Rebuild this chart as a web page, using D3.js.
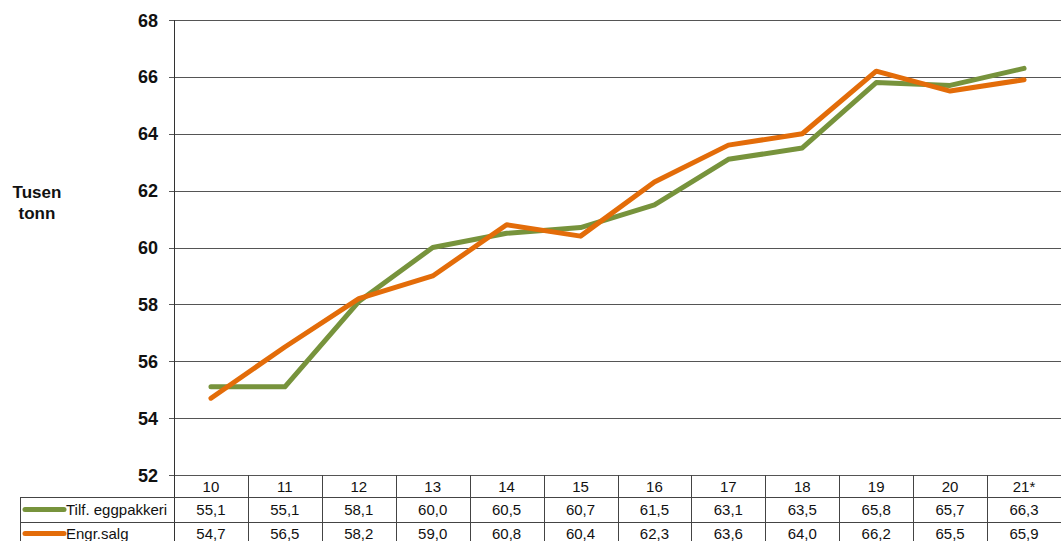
<!DOCTYPE html>
<html><head><meta charset="utf-8">
<script src="https://cdn.jsdelivr.net/npm/d3@7"></script>
<style>body{margin:0;background:#fff;}svg{display:block;font-family:"Liberation Sans",Arial,sans-serif;}</style>
</head><body><svg id="c" width="1061" height="541"></svg>
<script>
const categories = ["10","11","12","13","14","15","16","17","18","19","20","21*"];
const seriesNames = ["Tilf. eggpakkeri","Engr.salg"];
const eggpakkeri = [55.1,55.1,58.1,60.0,60.5,60.7,61.5,63.1,63.5,65.8,65.7,66.3];
const engrsalg = [54.7,56.5,58.2,59.0,60.8,60.4,62.3,63.6,64.0,66.2,65.5,65.9];
const yTicks = [52,54,56,58,60,62,64,66,68];
const colors = ["#77933C","#E36C09"];

const svg = d3.select("#c");
const L = 174, R = 1061, T = 20, B = 475;
const x = d3.scaleBand().domain(categories).range([L, R]);
const y = d3.scaleLinear().domain([52, 68]).range([B, T]);

// gridlines
svg.append("g").selectAll("line").data(yTicks).join("line")
  .attr("x1", L - 5).attr("x2", R).attr("y1", d => Math.round(y(d)) + 0.5).attr("y2", d => Math.round(y(d)) + 0.5)
  .attr("stroke", "#555").attr("stroke-width", 1);
// y axis line
svg.append("line").attr("x1", L + 0.5).attr("x2", L + 0.5).attr("y1", T).attr("y2", 541)
  .attr("stroke", "#333");
// y labels
svg.append("g").selectAll("text").data(yTicks).join("text")
  .attr("x", 158).attr("y", d => y(d) + 6.5).attr("text-anchor", "end")
  .attr("font-size", 18).attr("font-weight", "bold").attr("fill", "#111").text(d => d);
// axis title
svg.append("text").attr("x", 37).attr("y", 198).attr("text-anchor", "middle")
  .attr("font-size", 17).attr("font-weight", "bold").attr("fill", "#111").text("Tusen");
svg.append("text").attr("x", 37).attr("y", 219).attr("text-anchor", "middle")
  .attr("font-size", 17).attr("font-weight", "bold").attr("fill", "#111").text("tonn");

// lines
const line = d3.line().x((d, i) => x(categories[i]) + x.bandwidth() / 2).y(d => y(d));
[eggpakkeri, engrsalg].forEach((s, k) => {
  svg.append("path").datum(s).attr("d", line).attr("fill", "none")
    .attr("stroke", colors[k]).attr("stroke-width", 5).attr("stroke-linecap", "round").attr("stroke-linejoin", "round");
});

// data table
const rowY = [475, 497, 522, 541];
const tc = "#444";
const tbl = svg.append("g");
[rowY[1], rowY[2]].forEach(yy => {
  tbl.append("line").attr("x1", 20).attr("x2", R).attr("y1", yy + 0.5).attr("y2", yy + 0.5).attr("stroke", tc);
});
tbl.append("line").attr("x1", 20.5).attr("x2", 20.5).attr("y1", rowY[1]).attr("y2", 541).attr("stroke", tc);
tbl.selectAll(".vl").data(categories.slice(1)).join("line")
  .attr("x1", d => Math.round(x(d)) + 0.5).attr("x2", d => Math.round(x(d)) + 0.5)
  .attr("y1", B).attr("y2", 541).attr("stroke", tc);
tbl.selectAll(".cat").data(categories).join("text")
  .attr("x", d => x(d) + x.bandwidth() / 2).attr("y", 492).attr("text-anchor", "middle")
  .attr("font-size", 15).attr("fill", "#111").text(d => d);
const fmt = v => v.toFixed(1).replace(".", ",");
[eggpakkeri, engrsalg].forEach((s, k) => {
  const cy = k === 0 ? 515 : 539;
  tbl.append("g").selectAll("text").data(s).join("text")
    .attr("x", (d, i) => x(categories[i]) + x.bandwidth() / 2).attr("y", cy).attr("text-anchor", "middle")
    .attr("font-size", 15).attr("fill", "#111").text(fmt);
  const ly = k === 0 ? 509.5 : 533.5;
  tbl.append("line").attr("x1", 25).attr("x2", 64).attr("y1", ly).attr("y2", ly)
    .attr("stroke", colors[k]).attr("stroke-width", 5).attr("stroke-linecap", "round");
  tbl.append("text").attr("x", 66).attr("y", cy).attr("font-size", 15).attr("fill", "#111").text(seriesNames[k]);
});
</script></body></html>
